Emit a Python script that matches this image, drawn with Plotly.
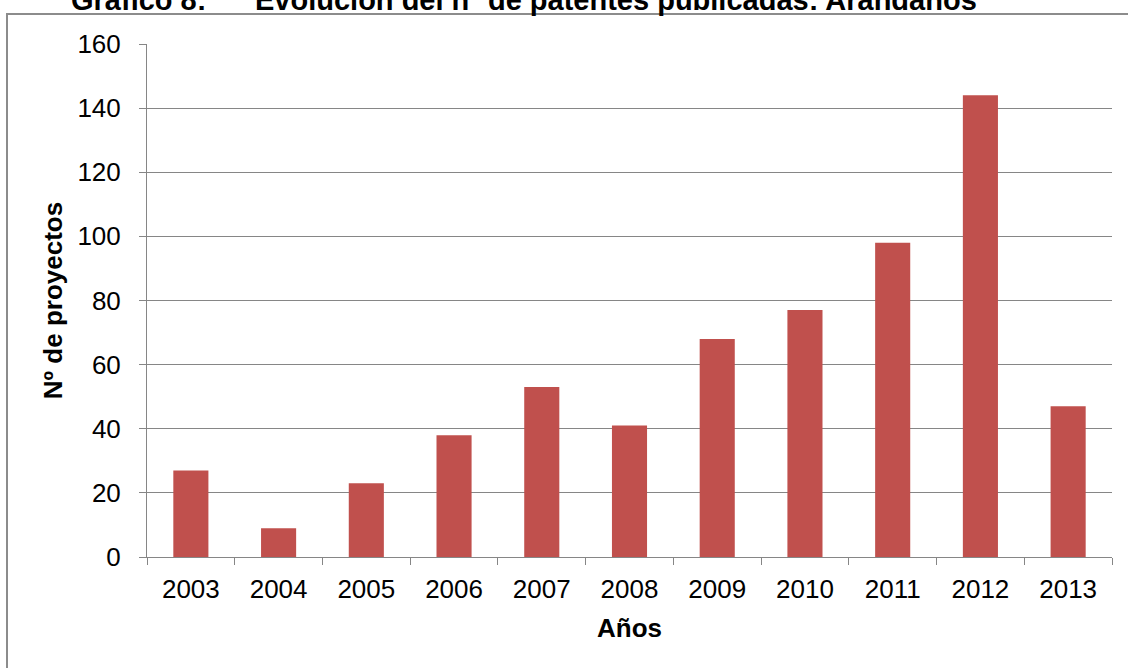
import plotly.graph_objects as go

# Published patents per year
years = ["2003", "2004", "2005", "2006", "2007", "2008", "2009", "2010", "2011", "2012", "2013"]
proyectos = [27, 9, 23, 38, 53, 41, 68, 77, 98, 144, 47]

title_label = "Gráfico 8:"
title_text = "Evolución del nº de patentes publicadas: Arándanos"
x_title = "Años"
y_title = "Nº de proyectos"

W, H = 1128, 668
L, R, T, B = 147, 16, 44, 111
pw, ph = W - L - R, H - T - B

def px_x(x):
    return (x - L) / pw

def px_y(y):
    return (H - B - y) / ph

FONT = "Liberation Sans, Arial, sans-serif"
GRID = "#868686"

fig = go.Figure(
    go.Bar(
        x=years,
        y=proyectos,
        marker=dict(color="#C0504D", line=dict(width=0)),
    )
)

fig.update_layout(
    width=W,
    height=H,
    margin=dict(l=L, r=R, t=T, b=B, pad=0),
    paper_bgcolor="white",
    plot_bgcolor="white",
    bargap=0.6,
    showlegend=False,
    font=dict(family=FONT, size=26, color="black"),
)

fig.update_yaxes(
    range=[0, 160],
    dtick=20,
    showgrid=True,
    gridcolor=GRID,
    gridwidth=1,
    zeroline=False,
    showline=True,
    linecolor=GRID,
    linewidth=1,
    ticks="outside",
    ticklen=7,
    tickcolor=GRID,
    ticklabelstandoff=13,
    tickfont=dict(family=FONT, size=26, color="black"),
    title=dict(text="<b>" + y_title + "</b>", standoff=7,
               font=dict(family=FONT, size=26, color="black")),
)

fig.update_xaxes(
    type="category",
    showgrid=False,
    showline=True,
    linecolor=GRID,
    linewidth=1,
    ticks="outside",
    tickson="boundaries",
    ticklen=7,
    tickcolor=GRID,
    ticklabelstandoff=9,
    tickfont=dict(family=FONT, size=26, color="black"),
    title=dict(text="<b>" + x_title + "</b>", standoff=15,
               font=dict(family=FONT, size=26, color="black")),
)

# Outer frame of the chart object (top and left edges visible)
fig.add_shape(
    type="rect", xref="paper", yref="paper",
    x0=px_x(7), x1=px_x(1140), y0=px_y(700), y1=px_y(14),
    line=dict(color="#8C8C8C", width=2), fillcolor="rgba(0,0,0,0)",
    layer="below",
)

# Caption above the frame
fig.add_annotation(
    text="<b>" + title_label + "</b>", xref="paper", yref="paper",
    x=px_x(69), y=px_y(18), xanchor="left", yanchor="bottom",
    showarrow=False, font=dict(family=FONT, size=29, color="black"),
)
fig.add_annotation(
    text="<b>" + title_text + "</b>", xref="paper", yref="paper",
    x=px_x(253), y=px_y(18), xanchor="left", yanchor="bottom",
    showarrow=False, font=dict(family=FONT, size=29, color="black"),
)

fig.write_html("out.html")
